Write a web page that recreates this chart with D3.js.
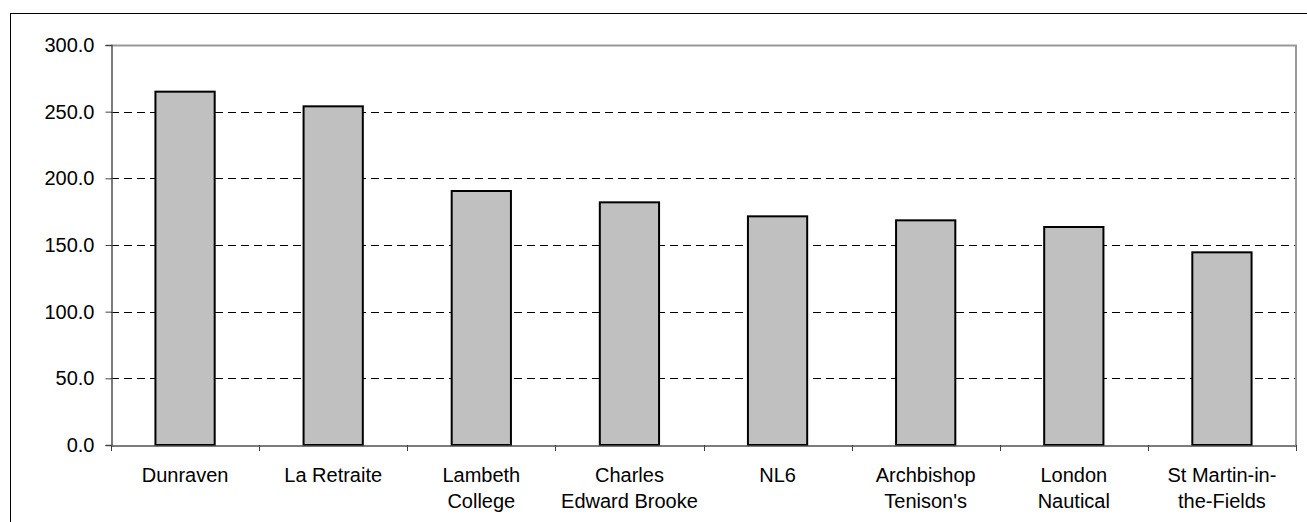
<!DOCTYPE html>
<html><head><meta charset="utf-8">
<script src="https://cdn.jsdelivr.net/npm/d3@7"></script>
<style>body{margin:0;background:#fff}svg{display:block}text{font-family:"Liberation Sans",Arial,sans-serif}</style>
</head><body><svg id="c" width="1307" height="522"></svg>
<script>
const categories = [["Dunraven"],["La Retraite"],["Lambeth","College"],["Charles","Edward Brooke"],["NL6"],["Archbishop","Tenison's"],["London","Nautical"],["St Martin-in-","the-Fields"]];
const values = [265, 254, 190.5, 182, 171.5, 168.5, 163.5, 144.5];
const yTicks = [0, 50, 100, 150, 200, 250, 300];

const svg = d3.select("#c");
const L = 111, T = 45, R = 1296, B = 445;
svg.append("rect").attr("x",10.5).attr("y",13.5).attr("width",1310).attr("height",520).attr("fill","none").attr("stroke","#000");

const keys = categories.map((d,i)=>i);
const x = d3.scaleBand().domain(keys).range([L,R]).paddingInner(0).paddingOuter(0);
const y = d3.scaleLinear().domain([0,300]).range([B,T]);

// gridlines
svg.append("g").selectAll("line").data(yTicks.filter(v=>v>0 && v<300)).join("line")
  .attr("x1",L).attr("x2",R).attr("y1",d=>Math.round(y(d))+0.5).attr("y2",d=>Math.round(y(d))+0.5)
  .attr("stroke","#000").attr("stroke-dasharray","8,5");
// plot frame top/right
svg.append("path").attr("d",`M${L},${T+0.5}H${R}V${B}`).attr("fill","none").attr("stroke","#999").attr("stroke-width",2);

// bars
const bw = x.bandwidth()*0.4;
svg.append("g").selectAll("rect").data(values).join("rect")
  .attr("x",(d,i)=>x(i)+x.bandwidth()/2-bw/2).attr("width",bw)
  .attr("y",d=>y(d)).attr("height",d=>y(0)-y(d))
  .attr("fill","#c0c0c0").attr("stroke","#000").attr("stroke-width",2);

// y axis
const ya = svg.append("g").attr("transform",`translate(${L+0.5},0)`).call(d3.axisLeft(y).tickValues(yTicks).tickFormat(d3.format(".1f")).tickSize(6).tickPadding(11));
ya.select(".domain").attr("stroke","#505050").attr("stroke-width",1.5);
ya.selectAll(".tick line").attr("stroke","#404040");
ya.selectAll("text").attr("font-size",20).attr("fill","#000").style("font-family","'Liberation Sans',Arial,sans-serif");

// x axis
const xa = svg.append("g").attr("transform",`translate(0,${B+0.5})`).call(d3.axisBottom(x).tickSize(0).tickFormat(""));
xa.select(".domain").attr("stroke","#505050").attr("stroke-width",1.5);
svg.append("g").selectAll("line").data(keys.concat([keys.length])).join("line")
  .attr("x1",d=>Math.round(L+d*x.step())+0.5).attr("x2",d=>Math.round(L+d*x.step())+0.5)
  .attr("y1",B).attr("y2",B+6).attr("stroke","#404040");

// labels
const lbl = svg.append("g").selectAll("text").data(categories).join("text")
  .attr("x",(d,i)=>x(i)+x.bandwidth()/2).attr("y",482)
  .attr("text-anchor","middle").attr("font-size",20).attr("fill","#000");
lbl.each(function(d){
  const t=d3.select(this);
  d.forEach((s,j)=>t.append("tspan").attr("x",t.attr("x")).attr("dy",j?26:0).text(s));
});
</script></body></html>
